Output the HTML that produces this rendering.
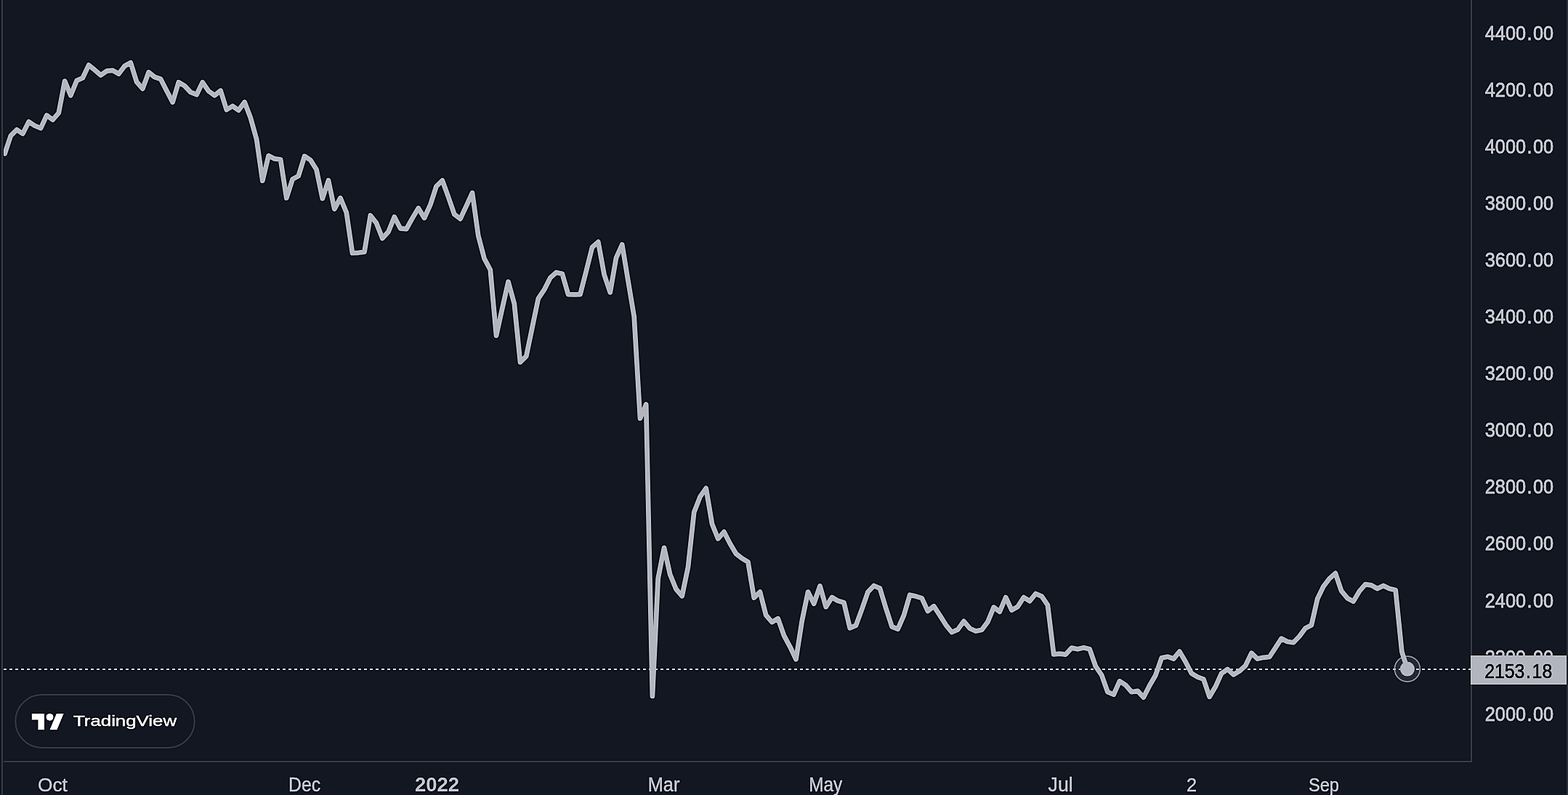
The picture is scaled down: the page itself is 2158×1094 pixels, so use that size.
<!DOCTYPE html>
<html lang="en"><head><meta charset="utf-8"><title>TradingView chart</title>
<style>html,body{margin:0;padding:0;background:#131722}body{width:2158px;height:1094px}svg{display:block}text{font-family:"Liberation Sans",sans-serif}</style></head><body>
<svg width="2158" height="1094" viewBox="0 0 2158 1094">
<filter id="fx" x="0" y="0" width="100%" height="100%" filterUnits="objectBoundingBox" color-interpolation-filters="sRGB"><feGaussianBlur in="SourceGraphic" stdDeviation="0.55" result="b1"/><feGaussianBlur in="b1" stdDeviation="1.1" result="b2"/><feComposite in="b1" in2="b2" operator="arithmetic" k1="0" k2="1.6" k3="-0.6" k4="0"/></filter>
<g filter="url(#fx)">
<rect x="-20" y="-20" width="2198" height="1134" fill="#131722"/>
<rect x="2" y="-20" width="2" height="1134" fill="#32363f"/>
<rect x="5" y="1047" width="2021" height="2" fill="#32363f"/>
<rect x="2024" y="-20" width="2" height="1069" fill="#32363f"/>
<rect x="2156" y="-20" width="24" height="1134" fill="#2a2e39"/>
<circle cx="1936.9" cy="920.6" r="17.5" fill="#b2b5be" fill-opacity="0.12" stroke="#858893" stroke-width="1.8"/>
<line x1="5" y1="921" x2="2024" y2="921" stroke="#b2b5be" stroke-width="2" stroke-dasharray="4 4"/>
<clipPath id="plot"><rect x="5" y="0" width="2019" height="1047"/></clipPath>
<polyline clip-path="url(#plot)" points="6.6,211.4 14.8,186.8 23.1,178.5 31.3,184.0 39.6,167.5 47.8,173.0 56.1,176.3 64.3,158.7 72.6,164.9 80.8,155.4 89.1,111.6 97.3,131.3 105.6,110.9 113.8,107.2 122.1,89.6 130.3,96.2 138.6,103.4 146.8,97.7 155.1,96.9 163.3,101.7 171.6,90.7 179.8,86.3 188.1,112.7 196.3,122.1 204.6,99.5 212.8,106.0 221.1,108.7 229.3,124.7 237.6,140.6 245.8,113.1 254.1,118.1 262.3,126.9 270.6,130.2 278.8,113.3 287.1,125.4 295.3,131.3 303.6,124.7 311.8,151.0 320.1,146.0 328.3,151.7 336.6,140.5 344.8,162.0 353.1,191.6 361.3,248.7 369.6,214.3 377.8,218.4 386.1,219.5 394.3,272.4 402.6,246.7 410.8,242.1 419.1,214.9 427.3,220.3 435.5,233.2 443.8,273.2 452.0,248.3 460.3,287.6 468.5,272.4 476.8,292.6 485.0,348.2 493.3,347.8 501.5,346.7 509.8,296.5 518.0,306.9 526.3,328.0 534.5,319.0 542.8,298.5 551.0,314.3 559.3,315.1 567.5,300.4 575.8,286.4 584.0,300.0 592.3,281.7 600.5,256.4 608.8,248.3 617.0,270.8 625.3,294.9 633.5,301.1 641.8,283.3 650.0,265.4 658.3,324.6 666.5,355.7 674.8,371.3 683.0,461.8 691.3,424.3 699.5,387.7 707.8,417.9 716.0,498.3 724.3,490.1 732.5,450.8 740.8,410.9 749.0,398.7 757.3,382.2 765.5,374.9 773.8,376.7 782.0,405.1 790.3,405.4 798.5,405.1 806.8,373.0 815.0,340.2 823.3,332.9 831.5,377.7 839.7,402.3 848.0,354.8 856.2,336.5 864.5,386.8 872.7,435.5 881.0,575.7 889.2,556.6 897.9,958.0 905.7,796.2 914.0,753.8 922.2,790.4 930.5,810.8 938.7,820.2 947.0,780.1 955.2,705.0 963.5,683.6 971.7,671.9 980.0,721.0 988.2,741.2 996.5,731.9 1004.7,748.0 1013.0,762.0 1021.2,768.4 1029.5,773.4 1037.7,822.5 1046.0,814.6 1054.2,846.5 1062.5,856.1 1070.7,851.2 1079.0,874.6 1087.2,889.8 1095.5,907.3 1103.7,854.7 1112.0,814.6 1120.2,830.7 1128.5,806.4 1136.7,835.1 1145.0,822.0 1153.2,826.8 1161.5,829.3 1169.7,864.3 1178.0,860.6 1186.2,838.4 1194.5,814.6 1202.7,806.0 1211.0,809.6 1219.2,836.8 1227.5,862.3 1235.7,865.6 1244.0,846.6 1252.2,818.7 1260.4,820.6 1268.7,823.1 1276.9,840.9 1285.2,834.2 1293.4,846.6 1301.7,859.8 1309.9,870.0 1318.2,866.4 1326.4,854.9 1334.7,864.7 1342.9,868.5 1351.2,866.7 1359.4,855.7 1367.7,835.6 1375.9,841.7 1384.2,822.0 1392.4,839.6 1400.7,834.8 1408.9,822.0 1417.2,827.2 1425.4,817.0 1433.7,820.6 1441.9,832.7 1450.2,900.3 1458.4,899.6 1466.7,900.6 1474.9,891.6 1483.2,893.3 1491.4,891.3 1499.7,893.3 1507.9,916.8 1516.2,929.2 1524.4,952.2 1532.7,955.8 1540.9,937.4 1549.2,942.8 1557.4,952.2 1565.7,950.9 1573.9,959.6 1582.2,943.2 1590.4,929.2 1598.7,905.3 1606.9,903.7 1615.2,906.5 1623.4,896.6 1631.7,910.7 1639.9,926.7 1648.2,931.6 1656.4,934.6 1664.6,958.8 1672.9,944.8 1681.1,926.7 1689.4,920.9 1697.6,928.4 1705.9,923.4 1714.1,916.0 1722.4,898.7 1730.6,906.6 1738.9,904.8 1747.1,904.0 1755.4,891.3 1763.6,878.7 1771.9,883.0 1780.1,884.2 1788.4,875.5 1796.6,864.4 1804.9,860.2 1813.1,824.3 1821.4,807.0 1829.6,796.3 1837.9,788.9 1846.1,813.1 1854.4,823.2 1862.6,827.6 1870.9,813.6 1879.1,804.1 1887.4,805.4 1895.6,810.0 1903.9,805.9 1912.1,810.0 1920.7,812.0 1929.3,896.7 1936.9,920.6" fill="none" stroke="#b2b5be" stroke-width="6.7" stroke-linejoin="round" stroke-linecap="round"/>
<circle cx="1936.9" cy="920.6" r="10" fill="#b2b5be"/>
<text transform="translate(2043.78,54.85) scale(0.8899,1)" font-size="28.39" dx="0 0 0 0 1.68 1.68 0" fill="#b8bbc4" stroke="#b8bbc4" stroke-width="0.9">4400.00</text>
<text transform="translate(2043.78,132.92) scale(0.8899,1)" font-size="28.39" dx="0 0 0 0 1.68 1.68 0" fill="#b8bbc4" stroke="#b8bbc4" stroke-width="0.9">4200.00</text>
<text transform="translate(2043.78,210.99) scale(0.8899,1)" font-size="28.39" dx="0 0 0 0 1.68 1.68 0" fill="#b8bbc4" stroke="#b8bbc4" stroke-width="0.9">4000.00</text>
<text transform="translate(2043.78,289.06) scale(0.8899,1)" font-size="28.39" dx="0 0 0 0 1.68 1.68 0" fill="#b8bbc4" stroke="#b8bbc4" stroke-width="0.9">3800.00</text>
<text transform="translate(2043.78,367.13) scale(0.8899,1)" font-size="28.39" dx="0 0 0 0 1.68 1.68 0" fill="#b8bbc4" stroke="#b8bbc4" stroke-width="0.9">3600.00</text>
<text transform="translate(2043.78,445.20) scale(0.8899,1)" font-size="28.39" dx="0 0 0 0 1.68 1.68 0" fill="#b8bbc4" stroke="#b8bbc4" stroke-width="0.9">3400.00</text>
<text transform="translate(2043.78,523.27) scale(0.8899,1)" font-size="28.39" dx="0 0 0 0 1.68 1.68 0" fill="#b8bbc4" stroke="#b8bbc4" stroke-width="0.9">3200.00</text>
<text transform="translate(2043.78,601.34) scale(0.8899,1)" font-size="28.39" dx="0 0 0 0 1.68 1.68 0" fill="#b8bbc4" stroke="#b8bbc4" stroke-width="0.9">3000.00</text>
<text transform="translate(2043.78,679.41) scale(0.8899,1)" font-size="28.39" dx="0 0 0 0 1.68 1.68 0" fill="#b8bbc4" stroke="#b8bbc4" stroke-width="0.9">2800.00</text>
<text transform="translate(2043.78,757.48) scale(0.8899,1)" font-size="28.39" dx="0 0 0 0 1.68 1.68 0" fill="#b8bbc4" stroke="#b8bbc4" stroke-width="0.9">2600.00</text>
<text transform="translate(2043.78,835.55) scale(0.8899,1)" font-size="28.39" dx="0 0 0 0 1.68 1.68 0" fill="#b8bbc4" stroke="#b8bbc4" stroke-width="0.9">2400.00</text>
<text transform="translate(2043.78,913.62) scale(0.8899,1)" font-size="28.39" dx="0 0 0 0 1.68 1.68 0" fill="#b8bbc4" stroke="#b8bbc4" stroke-width="0.9">2200.00</text>
<text transform="translate(2043.78,991.69) scale(0.8899,1)" font-size="28.39" dx="0 0 0 0 1.68 1.68 0" fill="#b8bbc4" stroke="#b8bbc4" stroke-width="0.9">2000.00</text>
<rect x="2024" y="902" width="132" height="40" fill="#b2b5be"/>
<text transform="translate(2043.19,933.35) scale(0.9014,1)" font-size="27.53" dx="0 0 0 0 1.83 1.83 0" fill="#000" stroke="#000" stroke-width="0.5">2153.18</text>
<text transform="translate(52.00,1088.65) scale(0.9903,1)" font-size="26.52" fill="#b8bbc4" stroke="#b8bbc4" stroke-width="0.5">Oct</text>
<text transform="translate(397.01,1088.65) scale(0.9204,1)" font-size="26.91" fill="#b8bbc4" stroke="#b8bbc4" stroke-width="0.5">Dec</text>
<text transform="translate(571.04,1088.90) scale(1.0086,1)" font-size="27.24" font-weight="bold" fill="#b8bbc4">2022</text>
<text transform="translate(891.65,1088.65) scale(0.9445,1)" font-size="26.91" fill="#b8bbc4" stroke="#b8bbc4" stroke-width="0.5">Mar</text>
<text transform="translate(1113.24,1088.65) scale(0.9059,1)" font-size="26.91" fill="#b8bbc4" stroke="#b8bbc4" stroke-width="0.5">May</text>
<text transform="translate(1442.55,1088.65) scale(0.9920,1)" font-size="26.91" fill="#b8bbc4" stroke="#b8bbc4" stroke-width="0.5">Jul</text>
<text transform="translate(1632.99,1088.65) scale(0.9529,1)" font-size="26.52" fill="#b8bbc4" stroke="#b8bbc4" stroke-width="0.5">2</text>
<text transform="translate(1800.89,1088.65) scale(0.8911,1)" font-size="26.52" fill="#b8bbc4" stroke="#b8bbc4" stroke-width="0.5">Sep</text>
<rect x="21.3" y="956" width="246.4" height="73" rx="36.5" fill="#131722" stroke="#32363f" stroke-width="2"/>
<g transform="translate(43.8,976.96) scale(1.235)" fill="#fff"><path d="M14 22H7V11H0V4h14z"/><circle cx="20" cy="8" r="4"/><path d="M28 22h-8l7.5-18h8z"/></g>
<text transform="translate(100.99,999.23) scale(1.2825,1)" font-size="20.15" fill="#fff" stroke="#fff" stroke-width="0.35">TradingView</text>
</g>
</svg></body></html>
